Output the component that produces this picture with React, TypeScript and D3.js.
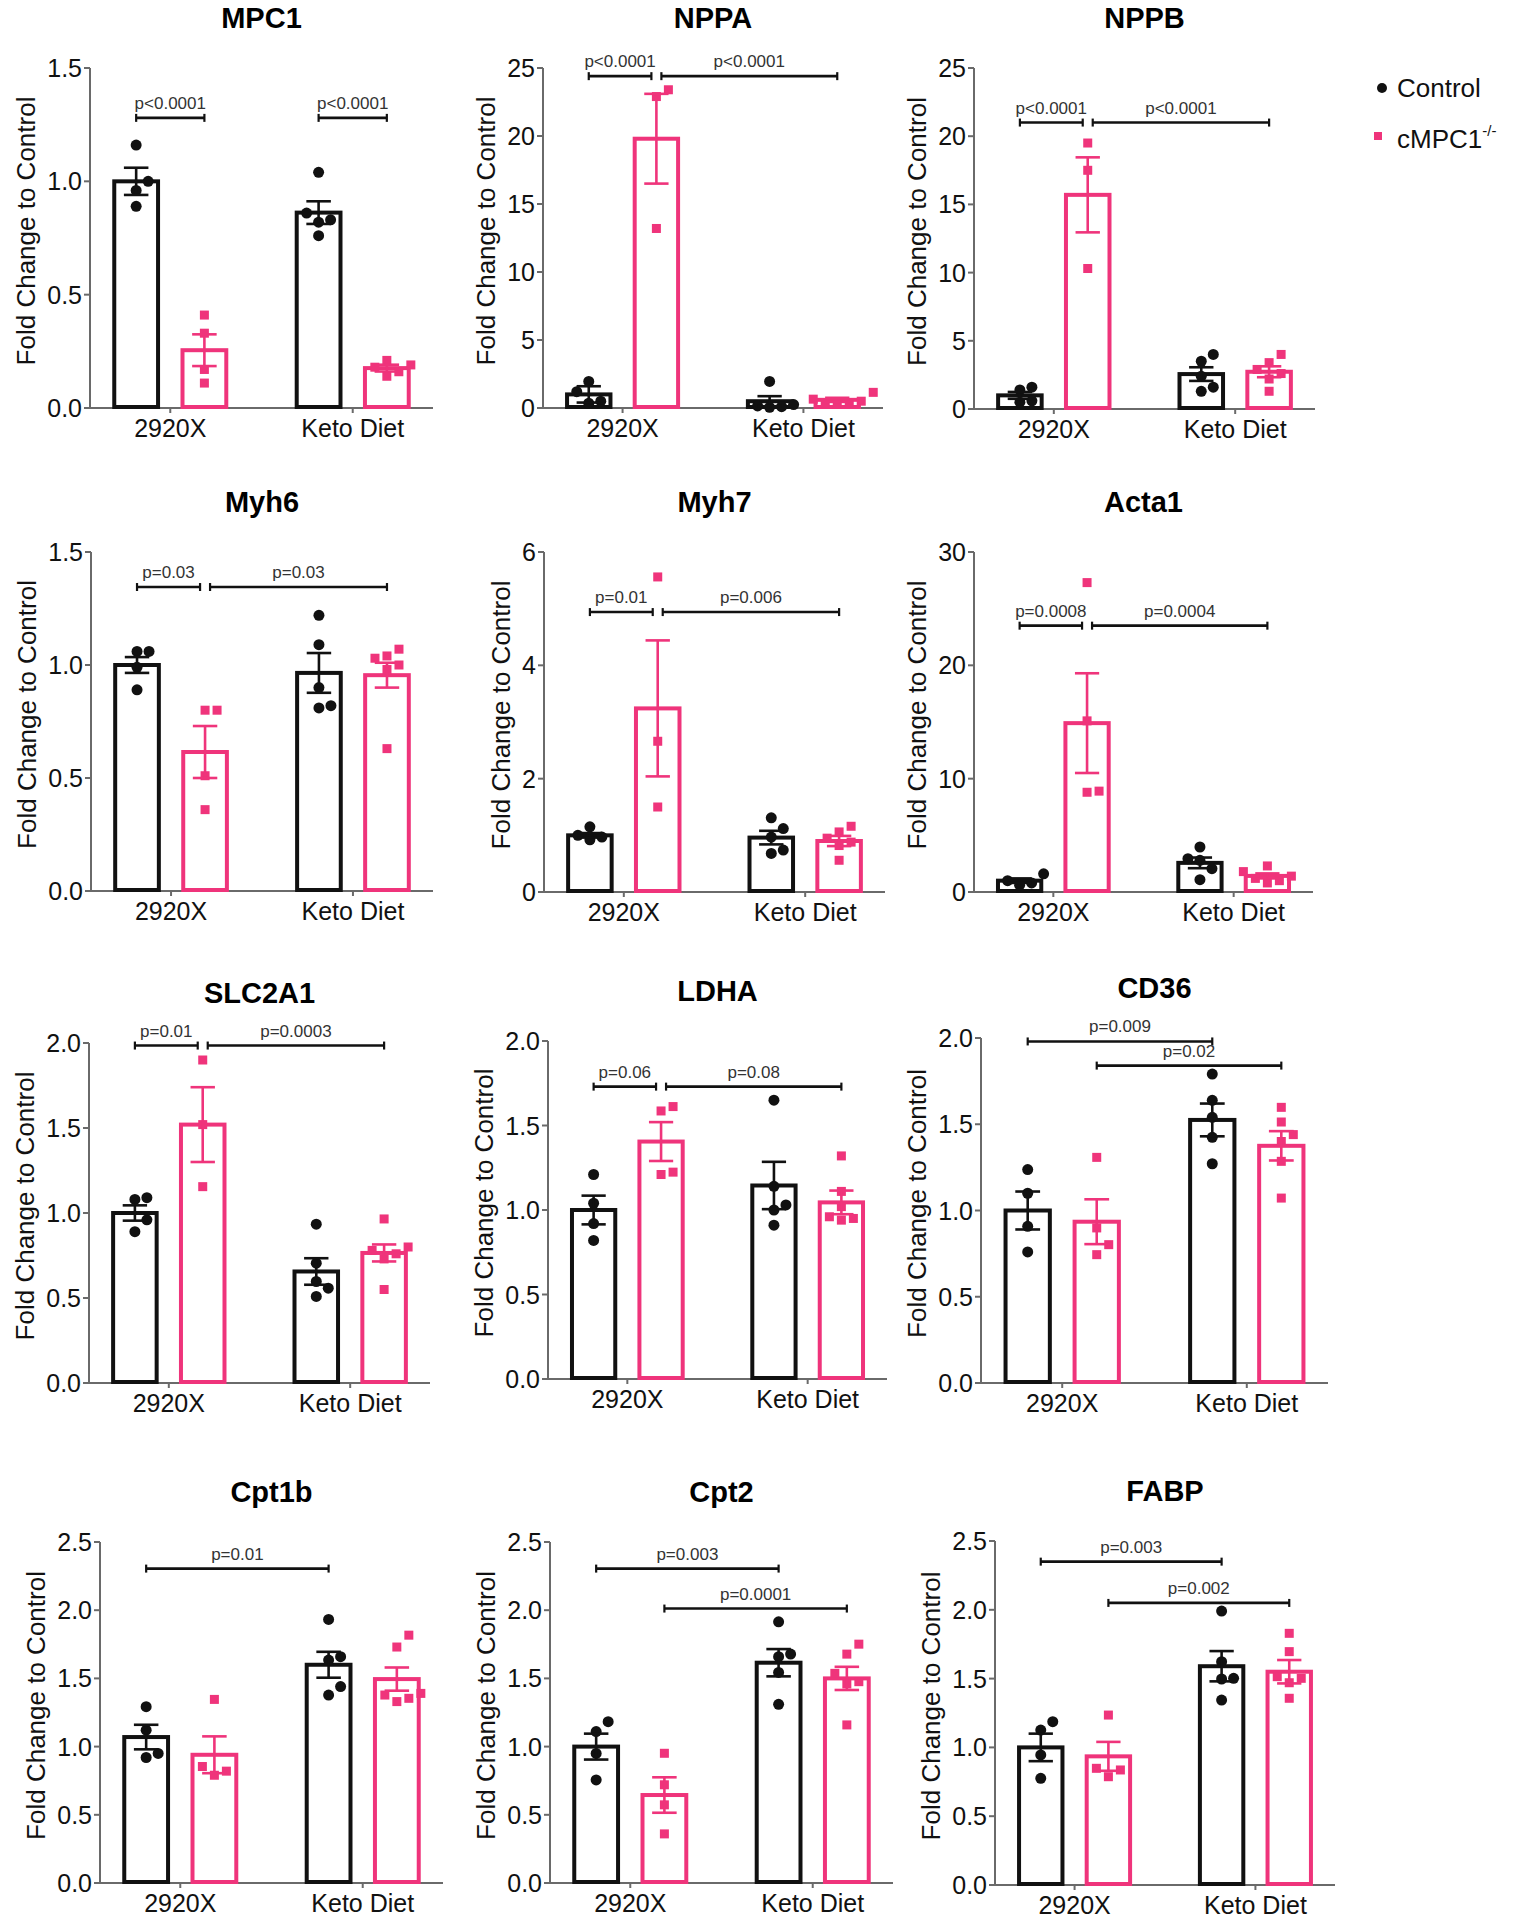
import React from "react";
import * as d3 from "d3";

// ---------- DATA ----------
const GROUPS = ["2920X", "Keto Diet"];
const SERIES = ["Control", "cMPC1"];
const GENES = ["MPC1", "NPPA", "NPPB", "Myh6", "Myh7", "Acta1", "SLC2A1", "LDHA", "CD36", "Cpt1b", "Cpt2", "FABP"];
// bar order: [2920X Control, 2920X cMPC1, Keto Control, Keto cMPC1]

const MPC1_MEAN = [1.0, 0.255, 0.862, 0.176];
const MPC1_SEM = [0.06, 0.07, 0.05, 0.015];
const MPC1_POINTS = [[1.16, 1.0, 0.96, 0.89], [0.41, 0.33, 0.17, 0.11], [1.04, 0.86, 0.83, 0.82, 0.76], [0.21, 0.19, 0.18, 0.16, 0.14]];
const MPC1_TICKS = [0, 0.5, 1.0, 1.5];
const MPC1_SIG = [{ a: 0, b: 1, y: 1.28, label: "p<0.0001" }, { a: 2, b: 3, y: 1.28, label: "p<0.0001" }];

const NPPA_MEAN = [1.0, 19.8, 0.5, 0.6];
const NPPA_SEM = [0.6, 3.3, 0.37, 0.15];
const NPPA_POINTS = [[1.95, 1.2, 0.5, 0.35], [23.4, 22.9, 13.2], [1.95, 0.25, 0.15, 0.1, 0.05], [1.15, 0.65, 0.5, 0.4, 0.35, 0.3]];
const NPPA_TICKS = [0, 5, 10, 15, 20, 25];
const NPPA_SIG = [{ a: 0, b: 1, y: 24.4, label: "p<0.0001" }, { a: 1, b: 3, y: 24.4, label: "p<0.0001" }];

const NPPB_MEAN = [1.0, 15.7, 2.56, 2.73];
const NPPB_SEM = [0.25, 2.75, 0.5, 0.4];
const NPPB_POINTS = [[1.6, 1.4, 0.6, 0.5], [19.5, 17.5, 10.3], [4.0, 3.5, 2.4, 1.6, 1.3], [4.0, 3.4, 2.9, 2.6, 2.2, 1.3]];
const NPPB_TICKS = [0, 5, 10, 15, 20, 25];
const NPPB_SIG = [{ a: 0, b: 1, y: 21, label: "p<0.0001" }, { a: 1, b: 3, y: 21, label: "p<0.0001" }];

const MYH6_MEAN = [1.0, 0.615, 0.965, 0.955];
const MYH6_SEM = [0.035, 0.115, 0.088, 0.055];
const MYH6_POINTS = [[1.06, 1.06, 0.99, 0.89], [0.8, 0.8, 0.51, 0.36], [1.22, 1.09, 0.9, 0.81, 0.82], [1.07, 1.04, 1.03, 1.0, 0.98, 0.63]];
const MYH6_TICKS = [0, 0.5, 1.0, 1.5];
const MYH6_SIG = [{ a: 0, b: 1, y: 1.345, label: "p=0.03" }, { a: 1, b: 3, y: 1.345, label: "p=0.03" }];

const MYH7_MEAN = [1.0, 3.24, 0.96, 0.9];
const MYH7_SEM = [0.04, 1.2, 0.12, 0.09];
const MYH7_POINTS = [[1.15, 1.0, 0.97, 0.92], [5.56, 2.66, 1.5], [1.31, 1.12, 0.97, 0.74, 0.68], [1.16, 1.06, 0.95, 0.88, 0.82, 0.56]];
const MYH7_TICKS = [0, 2, 4, 6];
const MYH7_SIG = [{ a: 0, b: 1, y: 4.94, label: "p=0.01" }, { a: 1, b: 3, y: 4.94, label: "p=0.006" }];

const ACTA1_MEAN = [1.0, 14.9, 2.57, 1.42];
const ACTA1_SEM = [0.2, 4.4, 0.47, 0.22];
const ACTA1_POINTS = [[1.6, 1.0, 0.8, 0.6], [27.3, 15.1, 8.8, 8.9], [3.97, 2.94, 2.8, 2.06, 1.09], [2.3, 1.8, 1.4, 1.2, 1.0, 0.8]];
const ACTA1_TICKS = [0, 10, 20, 30];
const ACTA1_SIG = [{ a: 0, b: 1, y: 23.5, label: "p=0.0008" }, { a: 1, b: 3, y: 23.5, label: "p=0.0004" }];

const SLC2A1_MEAN = [1.0, 1.52, 0.656, 0.765];
const SLC2A1_SEM = [0.045, 0.22, 0.078, 0.05];
const SLC2A1_POINTS = [[1.08, 1.09, 0.96, 0.89], [1.9, 1.52, 1.155], [0.934, 0.705, 0.597, 0.558, 0.509], [0.965, 0.8, 0.78, 0.76, 0.73, 0.55]];
const SLC2A1_TICKS = [0, 0.5, 1.0, 1.5, 2.0];
const SLC2A1_SIG = [{ a: 0, b: 1, y: 1.985, label: "p=0.01" }, { a: 1, b: 3, y: 1.985, label: "p=0.0003" }];

const LDHA_MEAN = [1.0, 1.405, 1.145, 1.045];
const LDHA_SEM = [0.085, 0.115, 0.14, 0.07];
const LDHA_POINTS = [[1.21, 1.04, 0.92, 0.82], [1.586, 1.612, 1.21, 1.224], [1.65, 1.14, 1.03, 1.0, 0.91], [1.32, 1.11, 1.02, 0.96, 0.95, 0.94]];
const LDHA_TICKS = [0, 0.5, 1.0, 1.5, 2.0];
const LDHA_SIG = [{ a: 0, b: 1, y: 1.73, label: "p=0.06" }, { a: 1, b: 3, y: 1.73, label: "p=0.08" }];

const CD36_MEAN = [1.0, 0.935, 1.525, 1.375];
const CD36_SEM = [0.11, 0.13, 0.095, 0.085];
const CD36_POINTS = [[1.237, 1.1, 0.908, 0.76], [1.308, 0.899, 0.802, 0.744], [1.791, 1.639, 1.54, 1.424, 1.271], [1.598, 1.513, 1.44, 1.4, 1.285, 1.072]];
const CD36_TICKS = [0, 0.5, 1.0, 1.5, 2.0];
const CD36_SIG = [{ a: 0, b: 2, y: 1.98, label: "p=0.009" }, { a: 1, b: 3, y: 1.84, label: "p=0.02" }];

const CPT1B_MEAN = [1.07, 0.94, 1.6, 1.495];
const CPT1B_SEM = [0.09, 0.135, 0.095, 0.085];
const CPT1B_POINTS = [[1.293, 1.12, 0.95, 0.92], [1.346, 0.854, 0.82, 0.79], [1.932, 1.659, 1.634, 1.44, 1.378], [1.817, 1.73, 1.39, 1.378, 1.354, 1.33]];
const CPT1B_TICKS = [0, 0.5, 1.0, 1.5, 2.0, 2.5];
const CPT1B_SIG = [{ a: 0, b: 2, y: 2.305, label: "p=0.01" }];

const CPT2_MEAN = [1.0, 0.645, 1.615, 1.5];
const CPT2_SEM = [0.095, 0.13, 0.1, 0.085];
const CPT2_POINTS = [[1.183, 1.11, 0.95, 0.756], [0.951, 0.72, 0.573, 0.36], [1.915, 1.678, 1.659, 1.544, 1.31], [1.751, 1.678, 1.537, 1.476, 1.459, 1.159]];
const CPT2_TICKS = [0, 0.5, 1.0, 1.5, 2.0, 2.5];
const CPT2_SIG = [{ a: 0, b: 2, y: 2.305, label: "p=0.003" }, { a: 1, b: 3, y: 2.012, label: "p=0.0001" }];

const FABP_MEAN = [1.0, 0.935, 1.59, 1.55];
const FABP_SEM = [0.1, 0.105, 0.11, 0.085];
const FABP_POINTS = [[1.187, 1.126, 0.945, 0.775], [1.235, 0.848, 0.836, 0.787], [1.991, 1.623, 1.502, 1.497, 1.344], [1.829, 1.696, 1.514, 1.502, 1.47, 1.357]];
const FABP_TICKS = [0, 0.5, 1.0, 1.5, 2.0, 2.5];
const FABP_SIG = [{ a: 0, b: 2, y: 2.35, label: "p=0.003" }, { a: 1, b: 3, y: 2.05, label: "p=0.002" }];

const Y_LABEL = "Fold Change to Control";

// ---------- LAYOUT / STYLE ----------
const PINK = "#ef347b";
const BLACK = "#111";
const AXIS = "#6a6a6a";
const FONT = "'Liberation Sans', Arial, Helvetica, sans-serif";

const PANEL_DATA = [
  [MPC1_MEAN, MPC1_SEM, MPC1_POINTS, MPC1_TICKS, MPC1_SIG],
  [NPPA_MEAN, NPPA_SEM, NPPA_POINTS, NPPA_TICKS, NPPA_SIG],
  [NPPB_MEAN, NPPB_SEM, NPPB_POINTS, NPPB_TICKS, NPPB_SIG],
  [MYH6_MEAN, MYH6_SEM, MYH6_POINTS, MYH6_TICKS, MYH6_SIG],
  [MYH7_MEAN, MYH7_SEM, MYH7_POINTS, MYH7_TICKS, MYH7_SIG],
  [ACTA1_MEAN, ACTA1_SEM, ACTA1_POINTS, ACTA1_TICKS, ACTA1_SIG],
  [SLC2A1_MEAN, SLC2A1_SEM, SLC2A1_POINTS, SLC2A1_TICKS, SLC2A1_SIG],
  [LDHA_MEAN, LDHA_SEM, LDHA_POINTS, LDHA_TICKS, LDHA_SIG],
  [CD36_MEAN, CD36_SEM, CD36_POINTS, CD36_TICKS, CD36_SIG],
  [CPT1B_MEAN, CPT1B_SEM, CPT1B_POINTS, CPT1B_TICKS, CPT1B_SIG],
  [CPT2_MEAN, CPT2_SEM, CPT2_POINTS, CPT2_TICKS, CPT2_SIG],
  [FABP_MEAN, FABP_SEM, FABP_POINTS, FABP_TICKS, FABP_SIG],
];

// plot frames: [xLeft, xRight, yTop(max tick), yBottom(0)]
const FRAMES = [
  [90, 433, 68, 408], [543, 883, 68, 408], [974, 1315, 68, 409],
  [91, 433, 552, 891], [544, 885, 552, 892], [974, 1313, 552, 892],
  [89, 430, 1043, 1383], [548, 887, 1041, 1379], [981, 1328, 1038, 1383],
  [100, 443, 1542, 1883], [550, 893, 1542, 1883], [995, 1335, 1541, 1885],
];

const TICK_FS = 25;

function labelWidth(s: string, fs: number) {
  let w = 0;
  for (const c of s) w += c === "." ? 0.278 : 0.556;
  return w * fs;
}

function swarm(values: number[], y: (v: number) => number, cx: number, d: number) {
  const order = values.map((_, i) => i).sort((a, b) => values[a] - values[b]);
  const placed: { x: number; y: number; i: number }[] = [];
  for (const i of order) {
    const py = y(values[i]);
    let chosen = cx;
    for (let k = 0; k < 20; k++) {
      const mag = Math.ceil(k / 2);
      const sign = k % 2 === 1 ? 1 : -1;
      const px = cx + sign * mag * d;
      const ok = placed.every((p) => Math.hypot(p.x - px, p.y - py) >= d);
      if (ok) { chosen = px; break; }
    }
    placed.push({ x: chosen, y: py, i });
  }
  return placed;
}

function Panel({ idx }: { idx: number }) {
  const [mean, sem, points, ticks, sig] = PANEL_DATA[idx] as any;
  const [x0, x1, yT, yB] = FRAMES[idx];
  const title = GENES[idx];
  const y = d3.scaleLinear().domain([0, ticks[ticks.length - 1]]).range([yB, yT]);
  const gx = d3.scalePoint<string>().domain(GROUPS).range([x0, x1]).padding(0.44);
  const step = gx.step();
  const bw = step * 0.24;
  const off = step * 0.187;
  const barCx = (i: number) => (gx(GROUPS[Math.floor(i / 2)]) as number) + (i % 2 === 0 ? -off : off);
  const colorOf = (i: number) => (i % 2 === 0 ? BLACK : PINK);
  const decimals = ticks.some((t: number) => !Number.isInteger(t));
  const fmt = decimals ? d3.format(".1f") : d3.format("d");
  const maxW = Math.max(...ticks.map((t: number) => labelWidth(fmt(t), TICK_FS)));
  const ylabX = x0 - 8 - maxW - 12;
  const ylabY = (yT + yB) / 2 - 7;

  const usage: Record<number, number> = {};
  sig.forEach((s: any) => { usage[s.a] = (usage[s.a] || 0) + 1; usage[s.b] = (usage[s.b] || 0) + 1; });

  return (
    <g>
      <text x={(x0 + x1) / 2} y={yT - 40} textAnchor="middle" fontSize={29} fontWeight="bold" fill="#000">{title}</text>
      <line x1={x0} x2={x0} y1={yT} y2={yB} stroke={AXIS} strokeWidth={2} />
      {ticks.map((t: number) => (
        <g key={t}>
          <line x1={x0 - 6} x2={x0} y1={y(t)} y2={y(t)} stroke={AXIS} strokeWidth={2} />
          <text x={x0 - 8} y={y(t)} dy="0.36em" textAnchor="end" fontSize={TICK_FS} fill="#111">{fmt(t)}</text>
        </g>
      ))}
      <text transform={`translate(${ylabX},${ylabY}) rotate(-90)`} textAnchor="middle" fontSize={26} fill="#111">{Y_LABEL}</text>
      <line x1={x0} x2={x1} y1={yB} y2={yB} stroke={AXIS} strokeWidth={2} />
      {GROUPS.map((g) => (
        <g key={g}>
          <line x1={gx(g)} x2={gx(g)} y1={yB} y2={yB + 5} stroke={AXIS} strokeWidth={2} />
          <text x={gx(g)} y={yB + 29} textAnchor="middle" fontSize={25} fill="#111">{g}</text>
        </g>
      ))}
      {mean.map((m: number, i: number) => (
        <rect key={"b" + i} x={barCx(i) - bw / 2} y={y(m)} width={bw} height={yB - y(m) - 1}
          fill="white" stroke={colorOf(i)} strokeWidth={4} />
      ))}
      {points.map((vals: number[], i: number) => {
        const pl = swarm(vals, (v) => y(v), barCx(i), 12);
        return pl.map((p) =>
          i % 2 === 0 ? (
            <circle key={`p${i}-${p.i}`} cx={p.x} cy={p.y} r={5.5} fill={BLACK} />
          ) : (
            <rect key={`p${i}-${p.i}`} x={p.x - 4.5} y={p.y - 4.5} width={9} height={9} fill={PINK} />
          )
        );
      })}
      {mean.map((m: number, i: number) => {
        const cx = barCx(i);
        const cw = bw * 0.28;
        const top = y(m + sem[i]);
        const bot = y(Math.max(0, m - sem[i]));
        return (
          <g key={"e" + i} stroke={colorOf(i)} strokeWidth={2.6}>
            <line x1={cx} x2={cx} y1={top} y2={bot} />
            <line x1={cx - cw} x2={cx + cw} y1={top} y2={top} />
            <line x1={cx - cw} x2={cx + cw} y1={bot} y2={bot} />
          </g>
        );
      })}
      {sig.map((s: any, k: number) => {
        let xa = barCx(s.a);
        let xb = barCx(s.b);
        if (usage[s.a] > 1) xa += 5;
        if (usage[s.b] > 1) xb -= 5;
        const yy = y(s.y);
        return (
          <g key={"s" + k}>
            <line x1={xa} x2={xb} y1={yy} y2={yy} stroke="#111" strokeWidth={2.6} />
            <line x1={xa} x2={xa} y1={yy - 4} y2={yy + 4} stroke="#111" strokeWidth={2.2} />
            <line x1={xb} x2={xb} y1={yy - 4} y2={yy + 4} stroke="#111" strokeWidth={2.2} />
            <text x={(xa + xb) / 2} y={yy - 9} textAnchor="middle" fontSize={17} fill="#333">{s.label}</text>
          </g>
        );
      })}
    </g>
  );
}

export default function App() {
  return (
    <svg width={1517} height={1920} style={{ position: "absolute", left: 0, top: 0, background: "white" }}
      fontFamily={FONT}>
      <rect x={0} y={0} width={1517} height={1920} fill="white" />
      {GENES.map((_, i) => <Panel key={i} idx={i} />)}
      <g>
        <circle cx={1382} cy={88} r={5} fill={BLACK} />
        <text x={1397} y={97} fontSize={26} fill="#111">{SERIES[0]}</text>
        <rect x={1374} y={132} width={8} height={8} fill={PINK} />
        <text x={1397} y={148} fontSize={26} fill="#111">
          {SERIES[1]}
          <tspan fontSize={15} dy={-12}>-/-</tspan>
        </text>
      </g>
    </svg>
  );
}
